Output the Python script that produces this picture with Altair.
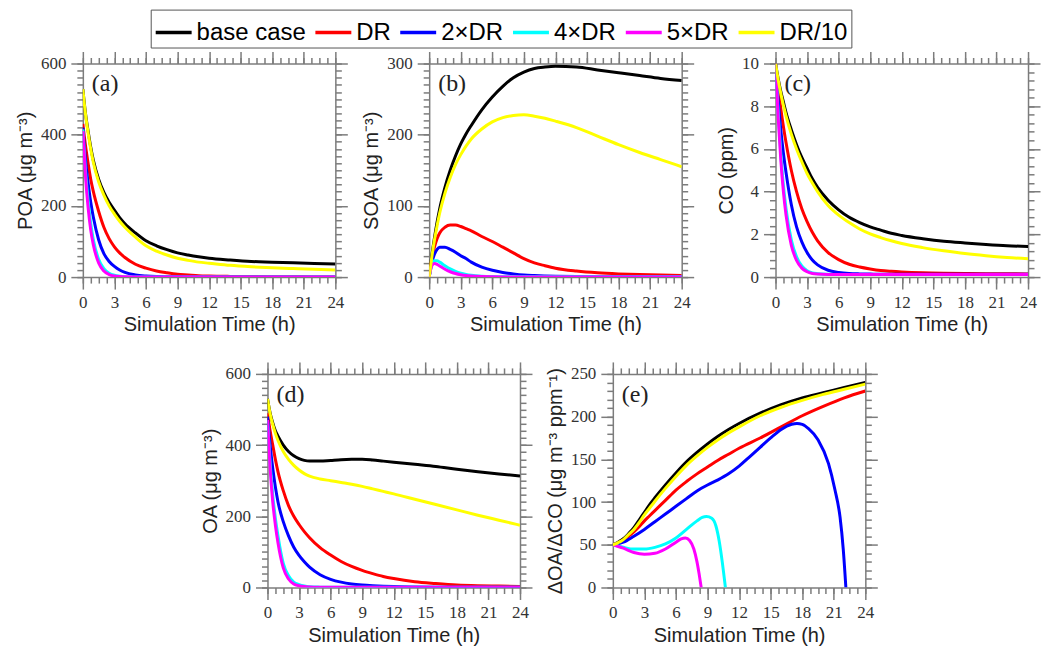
import altair as alt
import pandas as pd

SERIES = ["base case", "DR", "2×DR", "4×DR", "5×DR", "DR/10"]
COLORS = ["#000000", "#ff0000", "#0000ff", "#00ffff", "#ff00ff", "#ffff00"]

# common time grid (h)
T = [0, 0.25, 0.5, 0.75, 1, 1.5, 2, 2.5, 3, 3.5, 4, 5, 6, 7, 8, 9, 10, 11, 12, 14, 16, 18, 20, 22, 24]

# (a) POA
POA_BASE = [528, 460, 410, 365, 328, 275, 238, 210, 188, 167, 150, 124, 102, 88, 77, 68, 62, 57, 53, 48, 44, 42, 40, 38, 37]
POA_DR = [430, 370, 320, 275, 240, 185, 140, 108, 85, 68, 55, 36, 25, 17, 12, 8, 6, 4, 3, 2, 1.5, 1, 0.8, 0.6, 0.5]
POA_2DR = [420, 330, 265, 210, 168, 105, 66, 44, 30, 20, 13, 6, 3, 1.5, 1, 0.7, 0.5, 0.4, 0.3, 0.3, 0.3, 0.3, 0.3, 0.3, 0.3]
POA_4DR = [415, 300, 215, 150, 105, 50, 24, 11, 5, 2.5, 1.2, 0.5, 0.3, 0.3, 0.3, 0.3, 0.3, 0.3, 0.3, 0.3, 0.3, 0.3, 0.3, 0.3, 0.3]
POA_5DR = [410, 285, 195, 132, 90, 40, 17, 7, 3, 1.5, 0.7, 0.3, 0.2, 0.2, 0.2, 0.2, 0.2, 0.2, 0.2, 0.2, 0.2, 0.2, 0.2, 0.2, 0.2]
POA_DR10 = [528, 458, 405, 360, 322, 268, 230, 200, 177, 157, 140, 112, 88, 73, 62, 53, 47, 42, 39, 33, 29, 26, 24, 22, 20]

# (b) SOA
SOA_BASE = [0, 30, 55, 77, 96, 126, 150, 170, 187, 201, 213, 235, 253, 268, 280, 288, 293, 295, 296, 295, 291, 287, 283, 279, 276]
SOA_DR = [0, 25, 42, 54, 62, 70, 73, 73, 71, 68, 65, 57, 50, 42, 34, 26, 20, 16, 12.5, 8.5, 6, 4.5, 3.5, 2.8, 2.3]
SOA_2DR = [0, 20, 32, 39, 42, 42, 39, 35, 30, 26, 21, 14, 9.5, 6.5, 4.5, 3, 2.2, 1.6, 1.2, 0.8, 0.6, 0.5, 0.5, 0.5, 0.5]
SOA_4DR = [0, 17, 23, 23, 21, 16, 11.5, 8, 5.5, 3.8, 2.6, 1.3, 0.7, 0.5, 0.4, 0.4, 0.4, 0.4, 0.4, 0.4, 0.4, 0.4, 0.4, 0.4, 0.4]
SOA_5DR = [0, 16, 19, 18, 15.5, 11, 7.5, 5, 3.3, 2.2, 1.5, 0.7, 0.4, 0.3, 0.3, 0.3, 0.3, 0.3, 0.3, 0.3, 0.3, 0.3, 0.3, 0.3, 0.3]
SOA_DR10 = [0, 28, 52, 72, 90, 118, 140, 158, 172, 184, 194, 208, 218, 224, 227, 228, 226, 223, 219, 210, 198, 186, 175, 165, 155]

# (c) CO
CO_BASE = [10, 9.3, 8.7, 8.2, 7.7, 6.9, 6.2, 5.6, 5.1, 4.6, 4.2, 3.6, 3.15, 2.8, 2.55, 2.35, 2.2, 2.05, 1.95, 1.8, 1.68, 1.6, 1.53, 1.47, 1.43]
CO_DR = [10, 8.9, 7.9, 7.05, 6.3, 5.0, 4.0, 3.2, 2.6, 2.1, 1.7, 1.15, 0.82, 0.6, 0.47, 0.38, 0.31, 0.27, 0.24, 0.2, 0.18, 0.17, 0.16, 0.155, 0.15]
CO_2DR = [10, 8.3, 6.9, 5.8, 4.9, 3.4, 2.35, 1.65, 1.15, 0.8, 0.57, 0.32, 0.22, 0.17, 0.15, 0.14, 0.13, 0.13, 0.13, 0.13, 0.13, 0.13, 0.13, 0.13, 0.13]
CO_4DR = [10, 7.7, 5.8, 4.3, 3.2, 1.75, 0.95, 0.52, 0.3, 0.2, 0.16, 0.13, 0.12, 0.12, 0.12, 0.12, 0.12, 0.12, 0.12, 0.12, 0.12, 0.12, 0.12, 0.12, 0.12]
CO_5DR = [10, 7.5, 5.5, 4.0, 2.9, 1.5, 0.78, 0.42, 0.25, 0.17, 0.14, 0.12, 0.12, 0.12, 0.12, 0.12, 0.12, 0.12, 0.12, 0.12, 0.12, 0.12, 0.12, 0.12, 0.12]
CO_DR10 = [10, 9.25, 8.6, 8.05, 7.55, 6.7, 6.0, 5.4, 4.85, 4.4, 4.0, 3.35, 2.9, 2.55, 2.25, 2.02, 1.85, 1.7, 1.57, 1.38, 1.23, 1.1, 1.0, 0.92, 0.86]

# (d) OA
OA_BASE = [530, 490, 462, 440, 425, 400, 382, 370, 362, 357, 355, 355, 357, 359, 360, 360, 358, 355, 352, 346, 340, 332, 325, 319, 313]
OA_DR = [490, 440, 400, 360, 325, 272, 230, 200, 177, 157, 140, 112, 91, 73, 59, 48, 39, 31, 25, 16, 11, 7, 5, 4, 3]
OA_2DR = [480, 400, 335, 282, 240, 185, 145, 113, 90, 72, 57, 36, 23, 15, 10, 7, 5, 3.5, 2.5, 1.5, 1, 1, 1, 1, 1]
OA_4DR = [470, 350, 260, 195, 145, 68, 33, 15, 8, 4, 2, 1, 0.6, 0.5, 0.5, 0.5, 0.5, 0.5, 0.5, 0.5, 0.5, 0.5, 0.5, 0.5, 0.5]
OA_5DR = [470, 335, 240, 175, 125, 55, 24, 10, 5, 2.5, 1.5, 0.6, 0.4, 0.4, 0.4, 0.4, 0.4, 0.4, 0.4, 0.4, 0.4, 0.4, 0.4, 0.4, 0.4]
OA_DR10 = [530, 488, 458, 433, 413, 382, 360, 343, 330, 320, 313, 305, 300, 295, 290, 284, 277, 270, 263, 248, 233, 218, 203, 189, 175]

# (e) dOA/dCO
R_BASE = [50, 51, 53, 55, 57, 63, 70, 79, 88, 97, 105, 120, 134, 147, 158, 168, 177, 185, 192, 204, 214, 222, 228, 234, 240]
R_DR = [50, 51, 52, 53.5, 55, 60, 65, 71, 78, 84, 90, 102, 114, 124, 133, 141, 149, 156, 163, 175, 188, 201, 212, 222, 230]
R_DR10 = [50, 51, 52.5, 54, 56, 62, 68, 76, 85, 93, 101, 116, 130, 143, 154, 164, 173, 181, 188, 201, 211, 219, 226, 232, 238]
T_R2 = [0, 1, 2, 3, 4, 5, 6, 7, 8, 9, 10, 11, 12, 13, 14, 15, 16, 17, 17.5, 18, 18.6, 19.5, 20.5, 21.1, 21.6, 21.9, 22.15]
R_2DR = [50, 53, 60, 68, 77, 86, 95, 104, 113, 120, 126, 133, 142, 153, 164, 175, 185, 191, 192, 191, 186, 173, 145, 115, 82, 45, 0]
T_R4 = [0, 1, 2, 3, 4, 5, 6, 7, 8, 8.5, 8.9, 9.4, 9.8, 10.1, 10.4, 10.7]
R_4DR = [50, 47, 45, 45, 47, 51, 58, 68, 78, 82, 83, 81, 72, 55, 30, 0]
T_R5 = [0, 1, 2, 3, 4, 5, 6, 6.5, 6.9, 7.3, 7.7, 8.0, 8.2, 8.4]
R_5DR = [50, 46, 41, 39, 40, 45, 53, 57, 58, 55, 45, 30, 16, 0]

XMAJ = list(range(0, 25, 3))
XMIN = [i * 0.75 for i in range(33)]

GRAY = "#7c7c7c"
W, H = 253, 214


def frame(pairs):
    rows = []
    for s, (ts, vs) in zip(SERIES, pairs):
        for t, v in zip(ts, vs):
            rows.append({"t": t, "v": v, "series": s})
    return pd.DataFrame(rows)


def axis(orient, values, major=True, labels=False, title=None):
    kw = dict(orient=orient, values=values, grid=False, tickColor=GRAY, tickWidth=1.5,
              tickSize=12 if major else 6, labels=labels, domain=major,
              domainColor=GRAY, domainWidth=1.5, ticks=True)
    if labels:
        kw.update(labelFont="Liberation Serif", labelFontSize=17, labelColor="#333",
                  labelPadding=5, format="d", labelOverlap=False, labelFlush=False)
    if title:
        kw.update(title=title, titleFont="Liberation Sans", titleFontSize=20,
                  titleFontWeight="normal", titleColor="#222", titlePadding=5)
    else:
        kw["title"] = None
    return alt.Axis(**kw)


LEGEND = alt.Legend(orient="none", legendX=68, legendY=-54, direction="horizontal",
                    title=None, symbolType="stroke", symbolSize=1296, symbolStrokeWidth=3.5,
                    labelFont="Liberation Sans", labelFontSize=24, labelColor="#000",
                    labelOffset=3, columnPadding=2, padding=3, strokeColor="#555",
                    fillColor="white", labelLimit=300)


def panel(df, ymax, ymaj, ymin, ytitle, label, legend=False):
    xs = alt.Scale(domain=[0, 24], nice=False, zero=False)
    ys = alt.Scale(domain=[0, ymax], nice=False, zero=False)
    base = alt.Chart(df)
    color = alt.Color("series:N", scale=alt.Scale(domain=SERIES, range=COLORS),
                      sort=SERIES, legend=LEGEND if legend else None)
    lines = base.mark_line(strokeWidth=3, interpolate="monotone", clip=True).encode(
        x=alt.X("t:Q", scale=xs, axis=axis("bottom", XMAJ, True, True, "Simulation Time (h)")),
        y=alt.Y("v:Q", scale=ys, axis=axis("left", ymaj, True, True, ytitle)),
        color=color,
    )
    l2 = base.mark_point(opacity=0).encode(
        x=alt.X("t:Q", scale=xs, axis=axis("bottom", XMIN, False)),
        y=alt.Y("v:Q", scale=ys, axis=axis("left", ymin, False)),
    )
    l3 = base.mark_point(opacity=0).encode(
        x=alt.X("t:Q", scale=xs, axis=axis("top", XMAJ, True)),
        y=alt.Y("v:Q", scale=ys, axis=axis("right", ymaj, True)),
    )
    l4 = base.mark_point(opacity=0).encode(
        x=alt.X("t:Q", scale=xs, axis=axis("top", XMIN, False)),
        y=alt.Y("v:Q", scale=ys, axis=axis("right", ymin, False)),
    )
    txt = alt.Chart(pd.DataFrame({"label": [label]})).mark_text(
        font="Liberation Serif", fontSize=24, align="left", baseline="alphabetic", color="#222"
    ).encode(text="label:N", x=alt.value(9), y=alt.value(28))
    return alt.layer(lines, l2, l3, l4, txt).resolve_axis(
        x="independent", y="independent").properties(width=W, height=H)


df_a = frame([(T, POA_BASE), (T, POA_DR), (T, POA_2DR), (T, POA_4DR), (T, POA_5DR), (T, POA_DR10)])
df_b = frame([(T, SOA_BASE), (T, SOA_DR), (T, SOA_2DR), (T, SOA_4DR), (T, SOA_5DR), (T, SOA_DR10)])
df_c = frame([(T, CO_BASE), (T, CO_DR), (T, CO_2DR), (T, CO_4DR), (T, CO_5DR), (T, CO_DR10)])
df_d = frame([(T, OA_BASE), (T, OA_DR), (T, OA_2DR), (T, OA_4DR), (T, OA_5DR), (T, OA_DR10)])
df_e = frame([(T, R_BASE), (T, R_DR), (T_R2, R_2DR), (T_R4, R_4DR), (T_R5, R_5DR), (T, R_DR10)])

pa = panel(df_a, 600, [0, 200, 400, 600], list(range(0, 601, 20)), "POA (μg m⁻³)", "(a)", legend=True)
pb = panel(df_b, 300, [0, 100, 200, 300], list(range(0, 301, 10)), "SOA (μg m⁻³)", "(b)")
pc = panel(df_c, 10, [0, 2, 4, 6, 8, 10], [round(i * 0.4, 1) for i in range(26)], "CO (ppm)", "(c)")
pd_ = panel(df_d, 600, [0, 200, 400, 600], list(range(0, 601, 20)), "OA (μg m⁻³)", "(d)")
pe = panel(df_e, 250, [0, 50, 100, 150, 200, 250], list(range(0, 251, 10)),
           "ΔOA/ΔCO (μg m⁻³ ppm⁻¹)", "(e)")

spacer = alt.Chart(pd.DataFrame({"t": [0]})).mark_point(opacity=0).encode(
    x=alt.X("t:Q", axis=None), y=alt.Y("t:Q", axis=None)
).properties(width=92, height=H)

row1 = alt.hconcat(pa, pb, pc, spacing=94, bounds="flush")
row2 = alt.hconcat(spacer, pd_, pe, spacing=93, bounds="flush")

chart = alt.vconcat(row1, row2, spacing=26).properties(
    padding={"left": 15, "top": 8, "right": 0, "bottom": 0},
    background="white",
).configure_view(strokeOpacity=0, strokeWidth=0)

chart.save("out.html", embed_options={"renderer": "svg", "actions": False})
